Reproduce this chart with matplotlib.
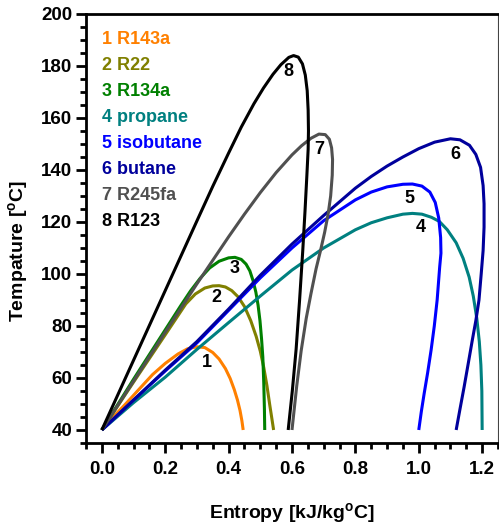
import matplotlib
matplotlib.use('Agg')
import matplotlib.pyplot as plt
from matplotlib.ticker import MultipleLocator

plt.rcParams['font.family'] = ['Liberation Sans', 'DejaVu Sans']
plt.rcParams['font.weight'] = 'bold'
plt.rcParams['mathtext.fontset'] = 'custom'
plt.rcParams['mathtext.bf'] = 'Liberation Sans:bold'
plt.rcParams['mathtext.rm'] = 'Liberation Sans:bold'

# saturation curves: entropy [kJ/kg C], temperature [C]
s_r143a = [0, 0.04, 0.078, 0.12, 0.16, 0.20, 0.24, 0.27, 0.30, 0.325, 0.35, 0.37, 0.39, 0.405,
           0.418, 0.428, 0.436, 0.442, 0.446]
t_r143a = [40, 45.5, 50.4, 56, 61.3, 65.6, 69.2, 71.2, 72.0, 71.7, 69.8, 67.3, 63.6, 59.8,
           55.5, 51.5, 47.5, 43.5, 40]

s_r22 = [0, 0.10, 0.20, 0.235, 0.265, 0.295, 0.325, 0.35, 0.37, 0.39, 0.41, 0.43, 0.45, 0.47,
         0.487, 0.50, 0.511, 0.521, 0.53, 0.537, 0.542]
t_r22 = [40, 58.4, 76.6, 83, 88.5, 92.3, 94.6, 95.4, 95.5, 95.0, 93.6, 91.2, 87.5, 82,
         76, 70.3, 64, 57, 49.5, 44, 40]

s_r134a = [0, 0.10, 0.20, 0.25, 0.28, 0.31, 0.34, 0.37, 0.40, 0.42, 0.44, 0.455, 0.467, 0.477,
           0.486, 0.493, 0.499, 0.504, 0.508, 0.511, 0.513, 0.514]
t_r134a = [40, 59.5, 78.5, 88, 93.5, 98.3, 102.3, 104.9, 106.2, 106.4, 105.6, 103.8, 101.2, 97.5,
           93, 88, 82, 75, 68, 58, 48, 40]

s_propane = [0, 0.10, 0.20, 0.30, 0.40, 0.50, 0.60, 0.70, 0.80, 0.85, 0.90, 0.95, 0.98, 1.01,
             1.04, 1.065, 1.09, 1.118, 1.14, 1.159, 1.172, 1.183, 1.191, 1.196, 1.199, 1.20]
t_propane = [40, 50.5, 60.3, 71, 81.3, 91.5, 101.5, 110, 117, 119.7, 121.6, 123.0, 123.3, 123.0,
             121.8, 120.2, 117, 112, 106, 98.8, 91.5, 83, 74, 65, 55, 40]

s_isobutane = [0, 0.10, 0.20, 0.30, 0.40, 0.50, 0.60, 0.70, 0.80, 0.85, 0.90, 0.95, 0.98, 1.01,
               1.035, 1.052, 1.063, 1.069, 1.07, 1.066, 1.058, 1.049, 1.039, 1.028, 1.017,
               1.008, 1.0]
t_isobutane = [40, 51.5, 62.7, 73.5, 86, 98.5, 110, 120.5, 128.5, 131.5, 133.5, 134.5, 134.6,
               133.8, 131.5, 127.5, 121.5, 114, 108, 102.7, 90, 80, 70.8, 62, 54, 47, 40]

s_butane = [0, 0.10, 0.20, 0.30, 0.40, 0.50, 0.60, 0.70, 0.80, 0.85, 0.90, 0.95, 1.00, 1.05,
            1.10, 1.13, 1.16, 1.18, 1.195, 1.203, 1.206, 1.206, 1.203, 1.197, 1.19, 1.18,
            1.169, 1.156, 1.143, 1.13, 1.118]
t_butane = [40, 51.5, 63, 74, 86.5, 99.5, 111.5, 122.5, 133, 137.5, 141.5, 145, 148.2, 150.7,
            152, 151.6, 149.5, 146, 141, 134, 127, 118, 109, 100, 90, 82,
            74.6, 65.5, 56.5, 48, 40]

s_r245fa = [0, 0.10, 0.20, 0.30, 0.40, 0.45, 0.50, 0.55, 0.60, 0.63, 0.66, 0.685, 0.705, 0.718,
            0.725, 0.728, 0.727, 0.722, 0.714, 0.703, 0.69, 0.676, 0.66, 0.645, 0.629, 0.615,
            0.60]
t_r245fa = [40, 58.8, 77.6, 96.2, 114.3, 123, 131.3, 139, 145.8, 149.3, 152.2, 153.8, 153.6,
            151.8, 148.5, 144, 138, 130, 123, 116, 109, 102, 92.5, 83, 70.5, 57, 40]

s_r123 = [0, 0.10, 0.20, 0.30, 0.35, 0.40, 0.44, 0.48, 0.51, 0.54, 0.565, 0.59, 0.605, 0.62,
          0.633, 0.642, 0.648, 0.651, 0.652, 0.651, 0.647, 0.641, 0.634, 0.624, 0.613, 0.601,
          0.588]
t_r123 = [40, 66.8, 93.6, 120.4, 133.7, 146.5, 156.5, 165.5, 171.5, 176.8, 180.5, 183.3, 184,
          183.4, 180.8, 176.5, 170.5, 163, 155, 148, 138, 124, 109, 90, 71, 55, 40]

names = ['R143a', 'R22', 'R134a', 'propane', 'isobutane', 'butane', 'R245fa', 'R123']
colors = ['#FF8000', '#808000', '#008000', '#008080', '#0000FF', '#00009C', '#505050', '#000000']
curves = [(s_r143a, t_r143a), (s_r22, t_r22), (s_r134a, t_r134a), (s_propane, t_propane),
          (s_isobutane, t_isobutane), (s_butane, t_butane), (s_r245fa, t_r245fa), (s_r123, t_r123)]
# where the curve numbers sit
label_s = [0.33, 0.36, 0.42, 1.007, 0.97, 1.115, 0.685, 0.59]
label_t = [66, 91, 102, 118, 129, 146, 148, 178]

fig = plt.figure(figsize=(4.99, 5.29), dpi=100)
ax = fig.add_axes([0.1723, 0.1626, 0.8257, 0.811])

for (s, t), c in zip(curves, colors):
    ax.plot(s, t, color=c, lw=2.2, solid_joinstyle='round', solid_capstyle='butt')

for i, (ls, lt) in enumerate(zip(label_s, label_t)):
    ax.text(ls, lt, str(i + 1), ha='center', va='center', fontsize=13, fontweight='bold')

for i, (n, c) in enumerate(zip(names, colors)):
    ax.text(0.002, 190 - 10 * i, f'{i + 1} {n}', color=c, ha='left', va='center',
            fontsize=13, fontweight='bold')

ax.set_xlim(-0.05, 1.25)
ax.set_ylim(35, 200)
ax.set_xticks([0, 0.2, 0.4, 0.6, 0.8, 1.0, 1.2])
ax.set_yticks(range(40, 201, 20))
ax.xaxis.set_minor_locator(MultipleLocator(0.05))
ax.yaxis.set_minor_locator(MultipleLocator(5))

ax.tick_params(which='major', direction='out', length=7, width=2, labelsize=13.5)
ax.tick_params(which='minor', direction='out', length=4, width=2)
ax.tick_params(axis='x', which='major', pad=6)
ax.tick_params(axis='y', which='major', pad=3)
for lab in ax.get_xticklabels() + ax.get_yticklabels():
    lab.set_fontweight('bold')

for side in ['left', 'bottom', 'top']:
    ax.spines[side].set_linewidth(2)
ax.spines['right'].set_linewidth(0.8)
ax.spines['right'].set_color('#444444')

ax.set_xlabel(r'Entropy [kJ/kg$^{\mathbf{o}}$C]', fontsize=14, fontweight='bold')
ax.set_ylabel(r'Tempature [$^{\mathbf{o}}$C]', fontsize=14, fontweight='bold')
ax.xaxis.set_label_coords(0.5, -0.135)
ax.xaxis.label.set_va('top')
ax.yaxis.set_label_coords(-0.163, 0.448)
ax.yaxis.label.set_va('center')

fig.savefig('out.png', dpi=100)
